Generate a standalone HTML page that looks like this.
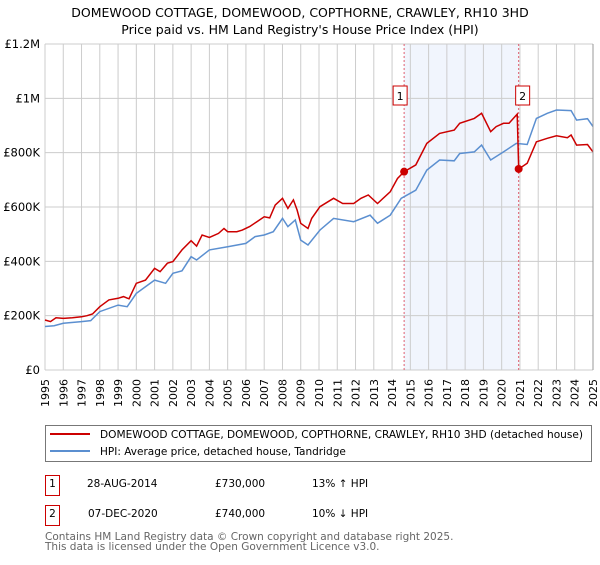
<!DOCTYPE html>
<html><head><meta charset="utf-8"><style>
body{margin:0;background:#fff;font-family:"Liberation Sans","DejaVu Sans",sans-serif;}
svg text{font-family:"DejaVu Sans","Liberation Sans",sans-serif;}
</style></head><body>
<svg id="chart" width="600" height="560" viewBox="0 0 600 560">
<text x="300" y="17" text-anchor="middle" font-size="12.5">DOMEWOOD COTTAGE, DOMEWOOD, COPTHORNE, CRAWLEY, RH10 3HD</text>
<text x="300" y="34" text-anchor="middle" font-size="12.5">Price paid vs. HM Land Registry's House Price Index (HPI)</text>
<g id="plot"></g>
<rect x="45.5" y="425.5" width="546" height="36" fill="#fff" stroke="#777"/>
<line x1="50" y1="434" x2="90" y2="434" stroke="#cc0000" stroke-width="2"/>
<text x="100" y="438" font-size="10.5" textLength="483" lengthAdjust="spacingAndGlyphs">DOMEWOOD COTTAGE, DOMEWOOD, COPTHORNE, CRAWLEY, RH10 3HD (detached house)</text>
<line x1="50" y1="451" x2="90" y2="451" stroke="#5b8fd0" stroke-width="2"/>
<text x="100" y="455" font-size="10.5">HPI: Average price, detached house, Tandridge</text>
<rect x="45.5" y="475.5" width="14" height="20" fill="#fff" stroke="#cc0000"/>
<text x="52.5" y="487" font-size="10.5" text-anchor="middle">1</text>
<text x="87" y="487" font-size="10.5">28-AUG-2014</text>
<text x="215" y="487" font-size="10.5">£730,000</text>
<text x="312" y="487" font-size="10.5">13% ↑ HPI</text>
<rect x="45.5" y="505.5" width="14" height="20" fill="#fff" stroke="#cc0000"/>
<text x="52.5" y="517" font-size="10.5" text-anchor="middle">2</text>
<text x="88" y="517" font-size="10.5">07-DEC-2020</text>
<text x="215" y="517" font-size="10.5">£740,000</text>
<text x="312" y="517" font-size="10.5">10% ↓ HPI</text>
<text x="45" y="540" font-size="10.5" fill="#666">Contains HM Land Registry data © Crown copyright and database right 2025.</text>
<text x="45" y="550" font-size="10.5" fill="#666">This data is licensed under the Open Government Licence v3.0.</text>
</svg>
<script>
const yTicks=[0,200000,400000,600000,800000,1000000,1200000];
const yTickLabels=["£0","£200K","£400K","£600K","£800K","£1M","£1.2M"];
const xTicks=[1995,1996,1997,1998,1999,2000,2001,2002,2003,2004,2005,2006,2007,2008,2009,2010,2011,2012,2013,2014,2015,2016,2017,2018,2019,2020,2021,2022,2023,2024,2025];
const redYears=[1995,1995.3,1995.6,1996,1996.5,1997,1997.3,1997.6,1998,1998.5,1999,1999.3,1999.6,2000,2000.5,2001,2001.3,2001.7,2002,2002.5,2003,2003.3,2003.6,2004,2004.5,2004.8,2005,2005.5,2005.8,2006.2,2006.6,2007,2007.3,2007.6,2008,2008.3,2008.6,2008.8,2009,2009.4,2009.6,2010.05,2010.8,2011.3,2011.9,2012.3,2012.7,2013.2,2013.9,2014.3,2014.66,2015.3,2015.9,2016.6,2017.4,2017.7,2018.5,2018.9,2019.4,2019.7,2020.1,2020.4,2020.85,2020.93,2021.4,2021.9,2022.5,2023,2023.6,2023.8,2024.1,2024.7,2025];
const redValues=[184,178,192,190,192,196,200,206,233,258,264,270,262,319,331,374,362,393,399,442,476,456,497,488,503,521,509,509,515,528,546,564,560,607,632,595,626,589,540,521,558,601,632,613,613,632,644,613,656,705,730,755,834,871,883,908,926,945,877,896,908,908,942,740,761,840,853,862,855,865,828,830,803];
const blueYears=[1995,1995.5,1996,1997,1997.5,1998,1999,1999.5,2000,2001,2001.6,2002,2002.5,2003,2003.3,2004,2005,2006,2006.5,2007,2007.5,2008,2008.3,2008.7,2009,2009.4,2010.05,2010.8,2011.9,2012.8,2013.2,2013.9,2014.5,2015.3,2015.9,2016.6,2017.4,2017.7,2018.5,2018.9,2019.4,2020.1,2020.8,2021.4,2021.9,2022.5,2023,2023.8,2024.1,2024.7,2025];
const blueValues=[160,163,172,178,182,215,239,233,282,331,319,356,365,417,405,442,454,466,491,497,509,558,528,552,478,460,515,558,546,570,540,570,632,662,736,773,770,797,803,828,773,803,834,830,926,945,957,955,920,925,896];
const sales=[{year:2014.66,value:730},{year:2020.93,value:740}];
const NS='http://www.w3.org/2000/svg';
const L=45,R=593,T=44,B=370;
const sx=y=>L+(y-1995)/30*(R-L);
const sy=v=>B-v/1200000*(B-T);
const g=document.getElementById('plot');
function mk(tag,attrs){const e=document.createElementNS(NS,tag);for(const k in attrs)e.setAttribute(k,attrs[k]);g.appendChild(e);return e;}
let e=mk('rect',{x:sx(sales[0].year),y:T,width:sx(sales[1].year)-sx(sales[0].year),height:B-T,fill:'#eef3fc',opacity:0.8});


xTicks.forEach((t,i)=>{
 let l=mk('line',{x1:sx(t),x2:sx(t),y1:T,y2:B,stroke:'#cccccc','stroke-width':1});
 
 
 let tx=mk('text',{transform:`translate(${sx(t)+4},407) rotate(-90)`,'font-size':11});
 tx.textContent=t;
 
 
});
yTicks.forEach((t,i)=>{
 let l=mk('line',{x1:L,x2:R,y1:sy(t),y2:sy(t),stroke:'#cccccc','stroke-width':1});
 
 
 let tx=mk('text',{x:40,y:sy(t)+4,'text-anchor':'end','font-size':11.5});
 tx.textContent=yTickLabels[i];
 
 
});
sales.forEach((s,i)=>{
 let l=mk('line',{x1:sx(s.year),x2:sx(s.year),y1:T,y2:B,stroke:'#e06070','stroke-width':1,'stroke-dasharray':'2,2'});
 
 
});
const bp=blueYears.map((y,i)=>sx(y).toFixed(1)+','+sy(blueValues[i]*1000).toFixed(1)).join(' ');
e=mk('polyline',{points:bp,fill:'none',stroke:'#5b8fd0','stroke-width':1.5});


const rp=redYears.map((y,i)=>sx(y).toFixed(1)+','+sy(redValues[i]*1000).toFixed(1)).join(' ');
e=mk('polyline',{points:rp,fill:'none',stroke:'#cc0000','stroke-width':1.5});


sales.forEach((s,i)=>{
 let c=mk('circle',{cx:sx(s.year),cy:sy(s.value*1000),r:4,fill:'#cc0000'});
 
 
 let r=mk('rect',{x:sx(s.year)-(i==0?11:3),y:86,width:14,height:19,fill:'#fff',stroke:'#cc0000'});
 
 
 let t=mk('text',{x:sx(s.year)-(i==0?4:-4),y:100,'text-anchor':'middle','font-size':11});
 t.textContent=String(i+1);
 
 
});
e=mk('line',{x1:R,x2:R,y1:T,y2:B,stroke:'#999','stroke-width':1});


</script>
</body></html>
